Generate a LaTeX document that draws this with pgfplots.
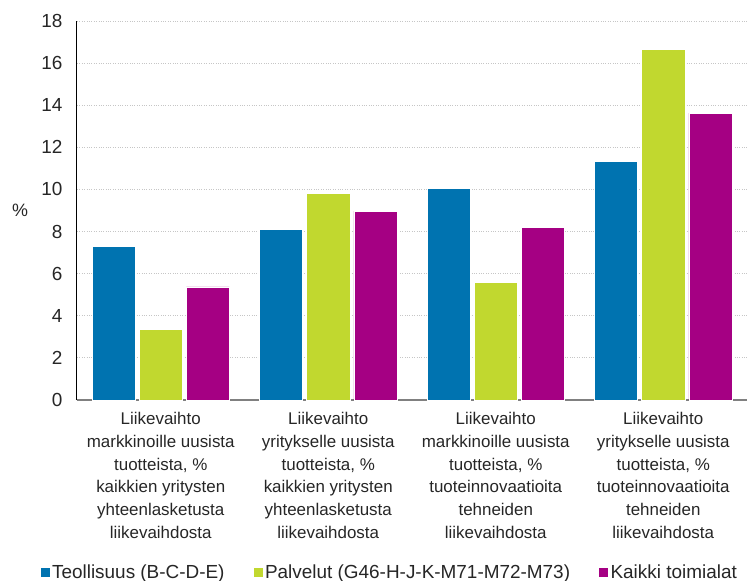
\documentclass[border=0pt]{standalone}
\usepackage{pgfplots}
\pgfplotsset{compat=1.18}
\usepackage{fontspec}
\setmainfont{Liberation Sans}
\definecolor{cBlue}{HTML}{0073B0}
\definecolor{cGreen}{HTML}{C1D82F}
\definecolor{cPurple}{HTML}{A50083}

\begin{document}
\begin{tikzpicture}
  \useasboundingbox (-77bp,-181bp) rectangle (670bp,400bp);
  \begin{axis}[
      at={(0,0)}, anchor=south west,
      scale only axis, width=670bp, height=379bp,
      ybar=4bp, bar width=0.257,
      xmin=-0.5, xmax=3.5,
      ymin=0, ymax=18, ytick={0,2,...,18},
      xtick={0,1,2,3},
      xticklabels={
        {Liikevaihto\\markkinoille uusista\\tuotteista, \%\\kaikkien yritysten\\yhteenlasketusta\\liikevaihdosta},
        {Liikevaihto\\yritykselle uusista\\tuotteista, \%\\kaikkien yritysten\\yhteenlasketusta\\liikevaihdosta},
        {Liikevaihto\\markkinoille uusista\\tuotteista, \%\\tuoteinnovaatioita\\tehneiden\\liikevaihdosta},
        {Liikevaihto\\yritykselle uusista\\tuotteista, \%\\tuoteinnovaatioita\\tehneiden\\liikevaihdosta}},
      xticklabel style={align=center, font=\fontsize{17}{22.8}\selectfont, text=black!85, yshift=-9bp},
      yticklabel style={font=\fontsize{19}{22}\selectfont, text=black!85, xshift=-11bp},
      /pgf/number format/assume math mode=true,
      major tick length=0pt,
      axis x line*=bottom, axis y line*=left,
      x axis line style={gray, line width=1.2bp, -},
      y axis line style={black, line width=1bp, -},
      ymajorgrids, grid style={dotted, gray!45, line width=0.8bp},
      ylabel={\%},
      ylabel style={rotate=-90, at={(rel axis cs:0,0.5)}, anchor=center, xshift=-57bp, font=\fontsize{18}{20}\selectfont, text=black!85},
      legend columns=3,
      legend style={at={(0.466,-0.454)}, anchor=center, draw=none, font=\fontsize{19}{20}\selectfont, text=black!85,
        /tikz/every even column/.append style={column sep=26bp}},
      legend image code/.code={\fill[#1] (0bp,-5bp) rectangle (10bp,5bp);},
      every axis plot/.append style={draw=white, line width=0.5bp},
    ]
    \addplot[fill=cBlue]   coordinates {(0,7.31) (1,8.12) (2,10.05) (3,11.35)};
    \addplot[fill=cGreen]  coordinates {(0,3.37) (1,9.83) (2,5.6) (3,16.65)};
    \addplot[fill=cPurple] coordinates {(0,5.37) (1,8.97) (2,8.2) (3,13.63)};
    \legend{Teollisuus (B-C-D-E), Palvelut (G46-H-J-K-M71-M72-M73), Kaikki toimialat}
  \end{axis}
\end{tikzpicture}
\end{document}
